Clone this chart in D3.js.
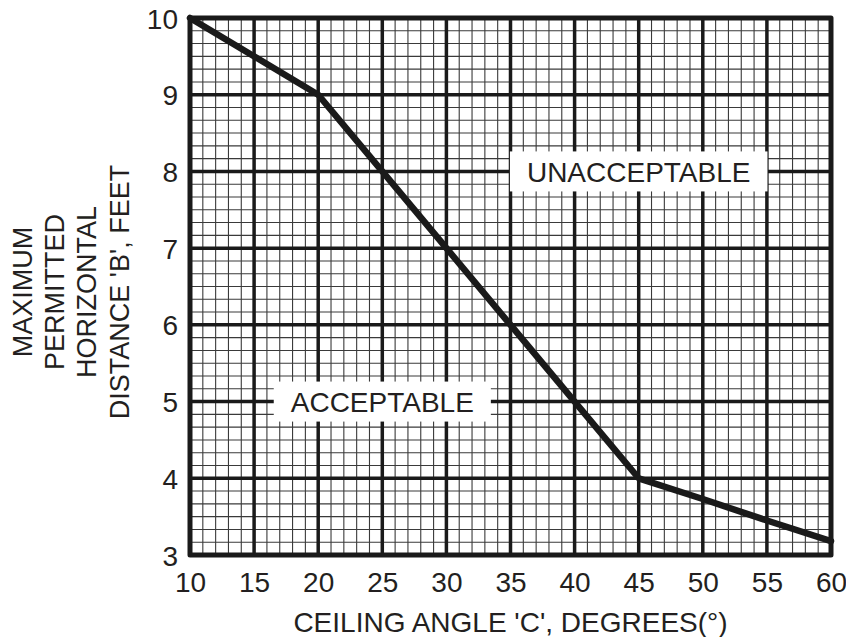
<!DOCTYPE html>
<html>
<head>
<meta charset="utf-8">
<script src="https://cdn.jsdelivr.net/npm/d3@7"></script>
<style>
  html, body { margin: 0; padding: 0; background: #fff; }
  svg { display: block; }
  text { font-family: "Liberation Sans", Arial, Helvetica, sans-serif; fill: #231f20; }
</style>
</head>
<body>
<div id="chart"></div>
<script>
// ---- data ----
const xTicks = [10, 15, 20, 25, 30, 35, 40, 45, 50, 55, 60];
const yTicks = [3, 4, 5, 6, 7, 8, 9, 10];
const angleDeg = [10, 20, 25, 30, 35, 40, 45, 50, 55, 60];
const maxDistanceFt = [10, 9, 8, 7, 6, 5, 4, 3.73, 3.45, 3.18];
const regionLabels = ["UNACCEPTABLE", "ACCEPTABLE"];
const regionLabelAngle = [45, 25];
const regionLabelDistance = [8, 5];
const xTitle = "CEILING ANGLE 'C', DEGREES(°)";
const yTitleLines = ["MAXIMUM", "PERMITTED", "HORIZONTAL", "DISTANCE 'B', FEET"];

// ---- layout ----
const W = 846, H = 637;
const plot = { left: 190, right: 831, top: 18, bottom: 555 };

const svg = d3.select("#chart").append("svg").attr("width", W).attr("height", H);

const x = d3.scaleLinear().domain([10, 60]).range([plot.left, plot.right]);
const y = d3.scaleLinear().domain([3, 10]).range([plot.bottom, plot.top]);

// minor grid: 1 degree in x, 1/6 ft in y
const xMinor = d3.range(10, 60.001, 1);
const yMinor = d3.range(0, 7 * 6 + 1).map(i => 3 + i / 6);

const grid = svg.append("g");
grid.selectAll("line.xminor").data(xMinor).join("line")
  .attr("x1", d => x(d)).attr("x2", d => x(d))
  .attr("y1", plot.top).attr("y2", plot.bottom)
  .attr("stroke", "#3a3a3a").attr("stroke-width", 1.1);
grid.selectAll("line.yminor").data(yMinor).join("line")
  .attr("y1", d => y(d)).attr("y2", d => y(d))
  .attr("x1", plot.left).attr("x2", plot.right)
  .attr("stroke", "#3a3a3a").attr("stroke-width", 1.1);

// major grid
grid.selectAll("line.xmajor").data(xTicks).join("line")
  .attr("x1", d => x(d)).attr("x2", d => x(d))
  .attr("y1", plot.top).attr("y2", plot.bottom)
  .attr("stroke", "#1a1a1a").attr("stroke-width", 3.5);
grid.selectAll("line.ymajor").data(yTicks).join("line")
  .attr("y1", d => y(d)).attr("y2", d => y(d))
  .attr("x1", plot.left).attr("x2", plot.right)
  .attr("stroke", "#1a1a1a").attr("stroke-width", 3.5);

// border
svg.append("rect")
  .attr("x", plot.left).attr("y", plot.top)
  .attr("width", plot.right - plot.left).attr("height", plot.bottom - plot.top)
  .attr("fill", "none").attr("stroke", "#1a1a1a").attr("stroke-width", 5)
  .attr("stroke-linejoin", "round");

// axes (labels only)
const fontFam = '"Liberation Sans", Arial, sans-serif';
const xAxis = d3.axisBottom(x).tickValues(xTicks).tickSize(0).tickPadding(0).tickFormat(d3.format("d"));
const gx = svg.append("g").attr("transform", `translate(0,${plot.bottom})`).call(xAxis);
gx.select(".domain").remove();
gx.selectAll("text").attr("y", 37).attr("dy", null)
  .attr("font-size", 28).attr("fill", "#231f20")
  .style("font-family", fontFam);

const yAxis = d3.axisLeft(y).tickValues(yTicks).tickSize(0).tickPadding(0).tickFormat(d3.format("d"));
const gy = svg.append("g").attr("transform", `translate(${plot.left},0)`).call(yAxis);
gy.select(".domain").remove();
gy.selectAll("text").attr("x", -12).attr("dy", "0.36em")
  .attr("font-size", 28).attr("fill", "#231f20")
  .style("font-family", fontFam);

// data line
const line = d3.line().x((d, i) => x(angleDeg[i])).y(d => y(d));
svg.append("path")
  .attr("d", line(maxDistanceFt))
  .attr("fill", "none").attr("stroke", "#1a1a1a").attr("stroke-width", 6.5)
  .attr("stroke-linejoin", "round").attr("stroke-linecap", "round");

// region labels with white boxes
regionLabels.forEach((label, i) => {
  const cx = x(regionLabelAngle[i]), cy = y(regionLabelDistance[i]);
  const g = svg.append("g");
  const t = g.append("text")
    .attr("x", cx).attr("y", cy).attr("dy", "0.36em")
    .attr("text-anchor", "middle").attr("font-size", 28)
    .text(label);
  const bb = t.node().getBBox();
  const padX = 17, halfH = 20;
  g.insert("rect", "text")
    .attr("x", bb.x - padX).attr("y", cy - halfH)
    .attr("width", bb.width + 2 * padX).attr("height", 2 * halfH)
    .attr("fill", "#fff");
});

// axis titles
svg.append("text")
  .attr("x", (plot.left + plot.right) / 2).attr("y", 632)
  .attr("text-anchor", "middle").attr("font-size", 28)
  .text(xTitle);

const yt = svg.append("text")
  .attr("transform", "translate(0,292) rotate(-90)")
  .attr("text-anchor", "middle").attr("font-size", 27);
yTitleLines.forEach((l, i) => {
  yt.append("tspan").attr("x", 0).attr("y", 32 + i * 32.2).text(l);
});
</script>
</body>
</html>
